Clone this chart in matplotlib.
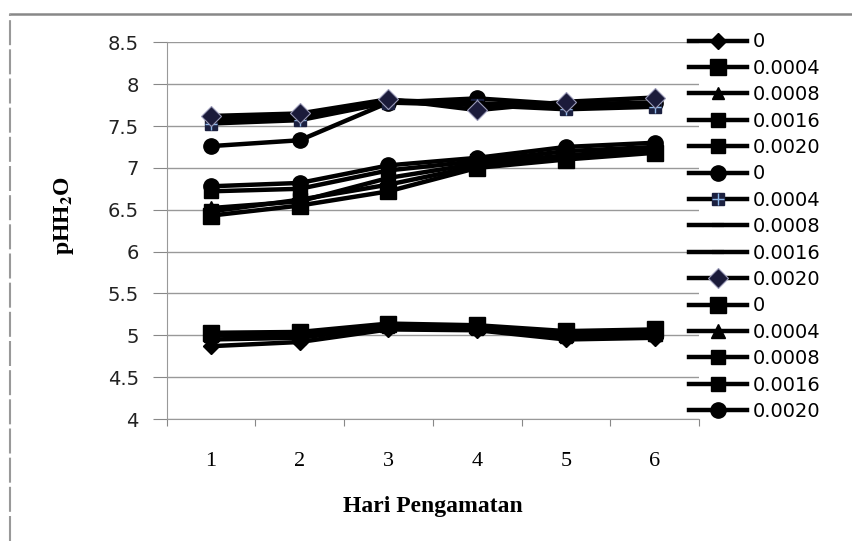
import numpy as np
import matplotlib
matplotlib.use("Agg")
import matplotlib.pyplot as plt
from matplotlib.lines import Line2D
from matplotlib.legend_handler import HandlerTuple

plt.rcParams['mathtext.fontset'] = 'stix'

# Observation days
days = [1, 2, 3, 4, 5, 6]
doses = ['0', '0.0004', '0.0008', '0.0016', '0.0020']

# Set A (lower band, around pH 5)
set_a = [
    [4.87, 4.92, 5.07, 5.06, 4.95, 4.97],
    [5.03, 5.04, 5.14, 5.12, 5.05, 5.07],
    [4.95, 4.97, 5.10, 5.08, 4.98, 5.00],
    [5.00, 5.00, 5.12, 5.10, 5.00, 5.02],
    [5.02, 5.02, 5.13, 5.10, 5.02, 5.05],
]
# Set B (upper band, around pH 7.5-7.8)
set_b = [
    [7.26, 7.33, 7.78, 7.83, 7.76, 7.78],
    [7.53, 7.57, 7.78, 7.75, 7.70, 7.73],
    [7.57, 7.60, 7.80, 7.76, 7.73, 7.76],
    [7.60, 7.62, 7.81, 7.77, 7.75, 7.78],
    [7.62, 7.65, 7.82, 7.69, 7.79, 7.84],
]
# Set C (middle band, pH 6.4-7.3)
set_c = [
    [6.43, 6.55, 6.72, 7.00, 7.10, 7.18],
    [6.52, 6.60, 6.88, 7.05, 7.15, 7.22],
    [6.48, 6.62, 6.80, 7.02, 7.12, 7.20],
    [6.72, 6.75, 6.97, 7.08, 7.20, 7.25],
    [6.78, 6.82, 7.03, 7.12, 7.25, 7.30],
]

navy = '#1b2040'
styles_a = [dict(marker='D', ms=8), dict(marker='s', ms=11), dict(marker='^', ms=9),
            dict(marker='s', ms=10), dict(marker='s', ms=10)]
styles_b = [dict(marker='o', ms=11), dict(marker='s', ms=9, mfc=navy, mec=navy),
            dict(marker='_', ms=9, mew=3), dict(marker='_', ms=9, mew=3),
            dict(marker='D', ms=10, mfc='#1b1b3a', mec='#9a9ab8', mew=0.8)]
styles_c = [dict(marker='s', ms=11), dict(marker='^', ms=10), dict(marker='s', ms=10),
            dict(marker='s', ms=10), dict(marker='o', ms=11)]

fig = plt.figure(figsize=(8.53, 5.41), dpi=100)
ax = fig.add_axes([0.1954, 0.2255, 0.6241, 0.6963])

handles = []
labels = []
for group, styles in [(set_a, styles_a), (set_b, styles_b), (set_c, styles_c)]:
    for dose, vals, st in zip(doses, group, styles):
        kw = dict(color='black', lw=3.2)
        kw.update(st)
        line, = ax.plot(days, vals, **kw)
        if st.get('mfc') == navy:
            # light cross drawn over the square markers
            cross, = ax.plot(days, vals, ls='none', marker='+', ms=9, mew=1,
                             color='#8fb8e8')
            handles.append((line, cross))
        else:
            handles.append(line)
        labels.append(dose)

ax.set_xlim(0.5, 6.5)
ax.set_ylim(4, 8.5)
ax.set_yticks(np.arange(4, 8.51, 0.5))
ax.set_yticklabels(['4', '4.5', '5', '5.5', '6', '6.5', '7', '7.5', '8', '8.5'],
                   fontsize=14, family='DejaVu Sans', color='#222222')
ax.set_xticks(np.arange(0.5, 6.6, 1))
ax.set_xticklabels([])
ax.set_xticks(days, minor=True)
ax.set_xticklabels([str(d) for d in days], minor=True, fontsize=16,
                   family='Liberation Serif')
ax.tick_params(axis='x', which='major', length=5, color='#888888', direction='out')
ax.tick_params(axis='x', which='minor', length=0, pad=24)
ax.tick_params(axis='y', length=10, color='#888888', pad=10)
ax.grid(axis='y', color='#999999', lw=1)
ax.set_axisbelow(True)
for s in ['top', 'right']:
    ax.spines[s].set_visible(False)
for s in ['left', 'bottom']:
    ax.spines[s].set_color('#999999')

ax.set_xlabel('Hari Pengamatan', fontsize=17, fontweight='bold', family='Liberation Serif')
ax.xaxis.set_label_coords(0.5, -0.205)
ax.set_ylabel(r'pHH$_\mathbf{2}$O', fontsize=17, fontweight='bold', family='Liberation Serif')
ax.yaxis.set_label_coords(-0.17, 0.54)

fig.legend(handles, labels, loc='upper left', bbox_to_anchor=(0.8077, 0.94),
           frameon=False, handlelength=3.0, handletextpad=0.3,
           labelspacing=0.38, borderpad=0, borderaxespad=0,
           handler_map={tuple: HandlerTuple(ndivide=1)},
           prop={'family': 'DejaVu Sans', 'size': 14})

# outer frame edges
fig.add_artist(Line2D([0.012, 1.0], [0.974, 0.974], color='#888888', lw=1.8))
fig.add_artist(Line2D([0.012, 0.012], [0.0, 0.974], color='#999999', lw=1.5,
                      ls=(0, (12, 2))))

fig.savefig('out.png', dpi=100)
